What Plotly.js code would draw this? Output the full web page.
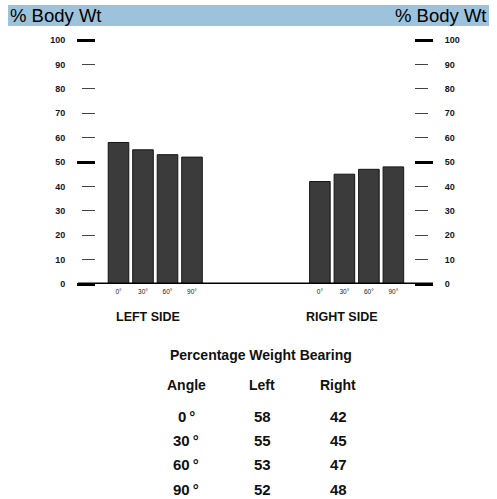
<!DOCTYPE html>
<html>
<head>
<meta charset="utf-8">
<script src="https://cdn.plot.ly/plotly-3.0.1.min.js"></script>
<style>html,body{margin:0;padding:0;background:#fff;}#chart{width:497px;height:499px;}</style>
</head>
<body>
<div id="chart"></div>
<script>
// ---- data ----
const angles = [0, 30, 60, 90];
const angleLabels = ['0°', '30°', '60°', '90°'];
const leftValues = [58, 55, 53, 52];
const rightValues = [42, 45, 47, 48];
const yTickVals = [0, 10, 20, 30, 40, 50, 60, 70, 80, 90, 100];
const majorTickVals = [0, 50, 100];
const sideLabels = ['LEFT SIDE', 'RIGHT SIDE'];
const tableTitle = 'Percentage Weight Bearing';
const tableHeaders = ['Angle', 'Left', 'Right'];
const axisTitle = '% Body Wt';

// ---- layout helpers (pixel -> paper) ----
const W = 497, H = 499;
const L = 96, R = 414, T = 40, B = 284;
const px = x => (x - L) / (R - L);
const py = y => (B - y) / (B - T);

const rightOffset = 8.22;
const leftX = leftValues.map((v, i) => i);
const rightX = rightValues.map((v, i) => i + rightOffset);

const barStyle = {color: '#3b3b3b', line: {color: '#151515', width: 1}};
const traces = [
  {type: 'bar', x: leftX, y: leftValues, width: 0.84, marker: barStyle, xaxis: 'x', yaxis: 'y', hoverinfo: 'none'},
  {type: 'bar', x: rightX, y: rightValues, width: 0.84, marker: barStyle, xaxis: 'x', yaxis: 'y2', hoverinfo: 'none'},
  {type: 'scatter', x: [], y: [], xaxis: 'x', yaxis: 'y3', showlegend: false},
  {type: 'scatter', x: [], y: [], xaxis: 'x', yaxis: 'y4', showlegend: false}
];

const tickFont = {family: 'Liberation Sans, Arial, sans-serif', size: 9, color: '#141428', weight: 'bold'};
const minorAxis = {
  range: [0, 100], tickmode: 'array', tickvals: yTickVals, ticktext: yTickVals.map(String),
  ticks: 'outside', ticklen: 13, tickwidth: 1.3, tickcolor: '#444',
  showgrid: false, zeroline: false, showline: false, fixedrange: true,
  tickfont: tickFont, ticklabelstandoff: 15
};
const majorAxis = {
  range: [0, 100], tickmode: 'array', tickvals: majorTickVals,
  ticks: 'outside', ticklen: 18, tickwidth: 3, tickcolor: '#000',
  showticklabels: false, showgrid: false, zeroline: false, showline: false, fixedrange: true
};

const annotations = [];
const txt = (text, x, y, font, opts) => annotations.push(Object.assign({
  text: text, xref: 'paper', yref: 'paper', x: px(x), y: py(y), showarrow: false,
  xanchor: 'center', yanchor: 'middle', font: font
}, opts || {}));
const fontOf = (s, bold) => ({family: 'Liberation Sans, Arial, sans-serif', size: s, color: '#111', weight: bold ? 'bold' : 'normal'});

// header band titles
txt(axisTitle, 8, 16, {family: 'Liberation Sans, Arial, sans-serif', size: 18.5, color: '#000'}, {xanchor: 'left'});
txt(axisTitle, 489, 16, {family: 'Liberation Sans, Arial, sans-serif', size: 18.5, color: '#000'}, {xanchor: 'right'});
// side labels
txt(sideLabels[0], 148, 317, fontOf(12.5, true));
txt(sideLabels[1], 342, 317, fontOf(12.5, true));
// table
txt(tableTitle, 261, 355, fontOf(14, true));
const colX = [186, 262, 338];
tableHeaders.forEach((h, c) => txt(h, colX[c], 385, fontOf(14, true)));
angles.forEach((a, r) => {
  const y = 416 + r * 24.4;
  txt(a + '\u2009°', colX[0], y, fontOf(15, true));
  txt(String(leftValues[r]), colX[1], y, fontOf(15, true));
  txt(String(rightValues[r]), colX[2], y, fontOf(15, true));
});

const layout = {
  width: W, height: H,
  margin: {l: L, r: W - R, t: T, b: H - B, pad: 0},
  paper_bgcolor: '#fff', plot_bgcolor: 'rgba(0,0,0,0)',
  showlegend: false, bargap: 0,
  xaxis: {
    range: [-(118.5 - L) / 24.5, -(118.5 - L) / 24.5 + (R - L) / 24.5],
    tickmode: 'array', tickvals: leftX.concat(rightX), ticktext: angleLabels.concat(angleLabels),
    ticks: '', showgrid: false, zeroline: false, showline: false, fixedrange: true,
    tickfont: {family: 'Liberation Sans, Arial, sans-serif', size: 6.5, color: '#222'}, ticklabelstandoff: 2
  },
  yaxis: Object.assign({}, minorAxis, {side: 'left'}),
  yaxis2: Object.assign({}, minorAxis, {side: 'right', overlaying: 'y', anchor: 'x'}),
  yaxis3: Object.assign({}, majorAxis, {side: 'left', overlaying: 'y', anchor: 'x'}),
  yaxis4: Object.assign({}, majorAxis, {side: 'right', overlaying: 'y', anchor: 'x'}),
  shapes: [
    {type: 'rect', xref: 'paper', yref: 'paper', x0: px(8), x1: px(489), y0: py(26), y1: py(5),
     fillcolor: '#9dc3dc', line: {width: 0}, layer: 'below'},
    {type: 'line', xref: 'paper', yref: 'y', x0: px(78), x1: px(433), y0: 0, y1: 0,
     line: {color: '#000', width: 3}}
  ],
  annotations: annotations
};

Plotly.newPlot('chart', traces, layout, {staticPlot: true, displayModeBar: false});
</script>
</body>
</html>
